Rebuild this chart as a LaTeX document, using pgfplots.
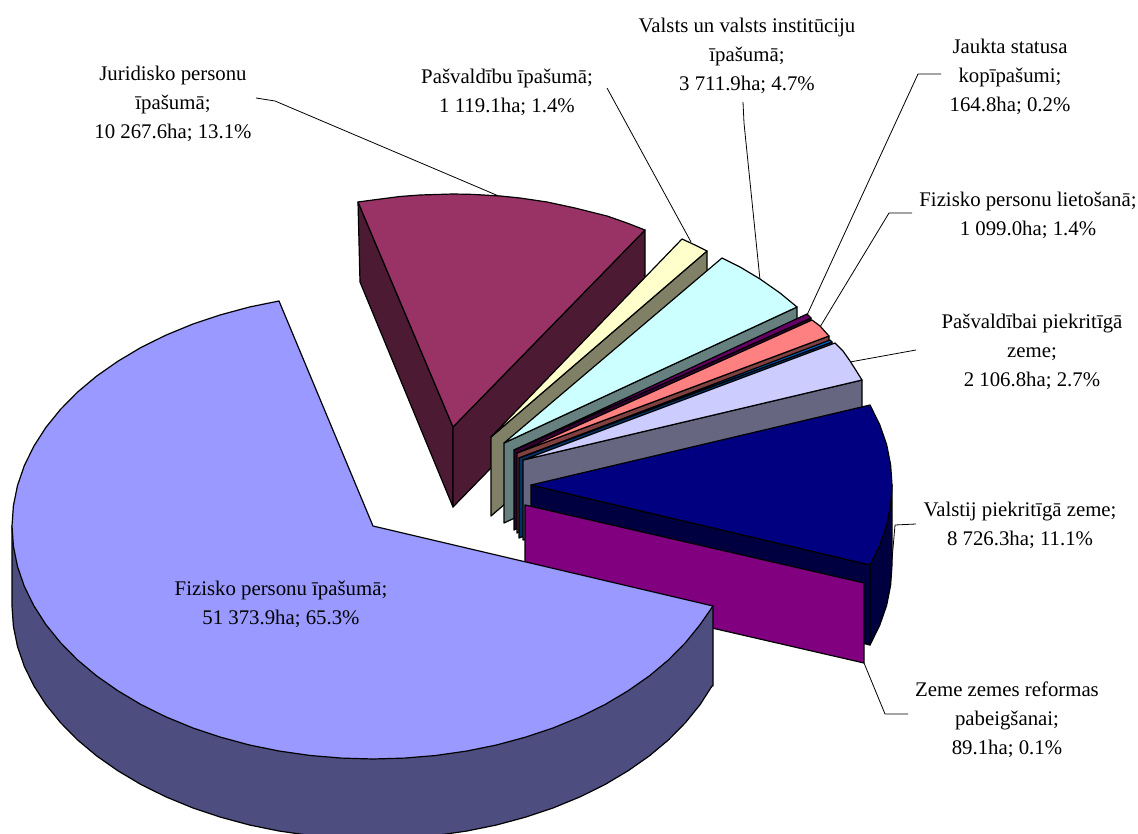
\documentclass[border=0pt]{standalone}
\usepackage{pgfplots}
\pgfplotsset{compat=1.18}
\usepackage{fontspec}
\setmainfont{Liberation Serif}
\definecolor{mainT}{HTML}{9999FF}\definecolor{mainW}{HTML}{4D4D80}
\definecolor{marT}{HTML}{993366}\definecolor{marW}{HTML}{4D1A33}
\definecolor{yelT}{HTML}{FFFFCC}\definecolor{yelW}{HTML}{808066}
\definecolor{cyaT}{HTML}{CCFFFF}\definecolor{cyaW}{HTML}{668080}
\definecolor{purT}{HTML}{660066}\definecolor{purW}{HTML}{330033}
\definecolor{salT}{HTML}{FF8080}\definecolor{salW}{HTML}{804040}
\definecolor{bluT}{HTML}{0066CC}\definecolor{bluW}{HTML}{003366}
\definecolor{lavT}{HTML}{CCCCFF}\definecolor{lavW}{HTML}{666680}
\definecolor{navT}{HTML}{000080}\definecolor{navW}{HTML}{000040}
\definecolor{magT}{HTML}{800080}
\tikzset{
  slice/.style={draw=black, line width=1.2pt},
  leader/.style={draw=black, line width=0.8pt},
  lbl/.style={align=center, anchor=center, font=\fontsize{20.8}{29}\selectfont, text=black, inner sep=0pt},
}
\begin{document}
\begin{tikzpicture}
\useasboundingbox (0,0) rectangle (1138pt,834pt);
\begin{axis}[
  at={(0,0)}, anchor=south west,
  scale only axis, width=1138pt, height=834pt,
  xmin=0, xmax=1138, ymin=0, ymax=834, y dir=reverse,
  hide axis, clip=true,
  every axis plot/.append style={line join=round, no markers, solid},
]
% leaders behind the slices
\addplot[leader] coordinates {(256,98)(275,101)(501,197)};
\addplot[leader] coordinates {(607,88)(691,242)};
\addplot[leader] coordinates {(743,102)(744,123)(760,280)};
\addplot[leader] coordinates {(941,74)(918,74)(807,315)};
\addplot[leader] coordinates {(912,213)(889,213)(820,327)};
\addplot[leader] coordinates {(916,350)(850,362)};
\addplot[leader] coordinates {(916,524)(895,525)(892,560)};
\addplot[leader] coordinates {(864,663)(885,714)(908,714)};
% Juridisko personu
\addplot[slice, fill=marW] coordinates {(358,202)(453,427)(453,507)(360,282)} --cycle;
\addplot[slice, fill=marW] coordinates {(453,427)(645,230)(645,310)(453,507)} --cycle;
\addplot[slice, fill=marT] coordinates {(453,427)(358,202)(373,200)(400,196.5)(420,195)(453,194)(473,194.4)(500,196)(520,198)(547,202)(575,208)(607,216)(627,223)(645,230)} --cycle;
% Pasvaldibu
\addplot[slice, fill=yelW] coordinates {(491,437)(707,251)(707,330)(491,516)} --cycle;
\addplot[slice, fill=yelT] coordinates {(491,437)(682,239)(695,245)(707,251)} --cycle;
% Valsts
\addplot[slice, fill=cyaW] coordinates {(504,443)(797,307)(797,387)(504,523)} --cycle;
\addplot[slice, fill=cyaT] coordinates {(504,443)(722,258)(740,267)(760,279)(780,293)(797,307)} --cycle;
% Jaukta statusa
\addplot[slice, fill=purW] coordinates {(514,450)(811,318)(811,398)(514,530)} --cycle;
\addplot[slice, fill=purT] coordinates {(514,450)(807,314)(811,318)} --cycle;
% Fizisko lietosana
\addplot[slice, fill=salW] coordinates {(517,453)(829,336)(829,416)(517,533)} --cycle;
\addplot[slice, fill=salT] coordinates {(517,453)(812,320)(820,326)(829,336)} --cycle;
% blue sliver
\addplot[slice, fill=bluW] coordinates {(519,458)(832,342)(832,422)(519,538)} --cycle;
\addplot[slice, fill=bluT] coordinates {(519,458)(830,340)(832,342)} --cycle;
% Pasvaldibai piekritiga
\addplot[slice, fill=lavW] coordinates {(523,460)(862,380)(862,460)(523,540)} --cycle;
\addplot[slice, fill=lavT] coordinates {(523,460)(835,343)(843,351)(850,361)(857,372)(862,380)} --cycle;
% Valstij piekritiga
\addplot[slice, fill=navW] coordinates {(531,485)(870,565)(870,645)(531,565)} --cycle;
\addplot[slice, fill=navW] coordinates {(870,565)(879.7,545.3)(886.6,525.5)(890.6,505.3)(892,485)(892,565)(890.6,585.3)(886.6,605.5)(879.7,625.3)(870,645)} --cycle;
\addplot[slice, fill=navT] coordinates {(531,485)(870,405)(879.7,424.7)(886.6,444.5)(890.6,464.7)(892,485)(890.6,505.3)(886.6,525.5)(879.7,545.3)(870,565)} --cycle;
% Zeme zemes reformas
\addplot[slice, fill=magT] coordinates {(525,505)(864,583)(864,663)(525,585)} --cycle;
% Fizisko personu ipasuma
\addplot[slice, fill=mainW] coordinates {(12,526)(12,606)(13.4,626.3)(17.5,646.5)(24.3,666.3)(33.8,685.7)(45.9,704.6)(60.4,722.5)(77.3,739.7)(96.5,755.8)(117.8,770.7)(140.9,784.5)(165.8,796.8)(192.5,807.8)(220.3,817.1)(249.5,825)(279.5,831.1)(310.3,835.5)(341.6,838.1)(373,839)(404.4,838.1)(435.7,835.5)(466.5,831.1)(496.5,825)(525.7,817.1)(553.5,807.8)(580.2,796.8)(605.1,784.5)(628.2,770.7)(649.5,755.8)(668.7,739.7)(685.6,722.5)(700.1,704.6)(712,686)(713,686)(713,606)} --cycle;
\addplot[slice, fill=mainT] coordinates {(373,526)(279,301)(249.5,307)(220.3,314.9)(192.5,324.2)(165.8,335.2)(140.9,347.5)(117.8,361.3)(96.5,376.2)(77.3,392.3)(60.4,409.5)(45.9,427.4)(33.8,446.3)(24.3,465.7)(17.5,485.5)(13.4,505.7)(12,526)(13.4,546.3)(17.5,566.5)(24.3,586.3)(33.8,605.7)(45.9,624.6)(60.4,642.5)(77.3,659.7)(96.5,675.8)(117.8,690.7)(140.9,704.5)(165.8,716.8)(192.5,727.8)(220.3,737.1)(249.5,745)(279.5,751.1)(310.3,755.5)(341.6,758.1)(373,759)(404.4,758.1)(435.7,755.5)(466.5,751.1)(496.5,745)(525.7,737.1)(553.5,727.8)(580.2,716.8)(605.1,704.5)(628.2,690.7)(649.5,675.8)(668.7,659.7)(685.6,642.5)(700.1,624.6)(713,606)} --cycle;
% labels
\node[lbl] at (axis cs:173,103.5) {Juridisko personu\\īpašumā;\\10 267.6ha; 13.1\%};
\node[lbl] at (axis cs:507,92) {Pašvaldību īpašumā;\\1 119.1ha; 1.4\%};
\node[lbl] at (axis cs:747,56) {Valsts un valsts institūciju\\īpašumā;\\3 711.9ha; 4.7\%};
\node[lbl] at (axis cs:1010,77) {Jaukta statusa\\kopīpašumi;\\164.8ha; 0.2\%};
\node[lbl] at (axis cs:1028,215) {Fizisko personu lietošanā;\\1 099.0ha; 1.4\%};
\node[lbl] at (axis cs:1032,352) {Pašvaldībai piekritīgā\\zeme;\\2 106.8ha; 2.7\%};
\node[lbl] at (axis cs:1020,525) {Valstij piekritīgā zeme;\\8 726.3ha; 11.1\%};
\node[lbl] at (axis cs:1007,719.5) {Zeme zemes reformas\\pabeigšanai;\\89.1ha; 0.1\%};
\node[lbl] at (axis cs:281,604) {Fizisko personu īpašumā;\\51 373.9ha; 65.3\%};
\end{axis}
\end{tikzpicture}
\end{document}
